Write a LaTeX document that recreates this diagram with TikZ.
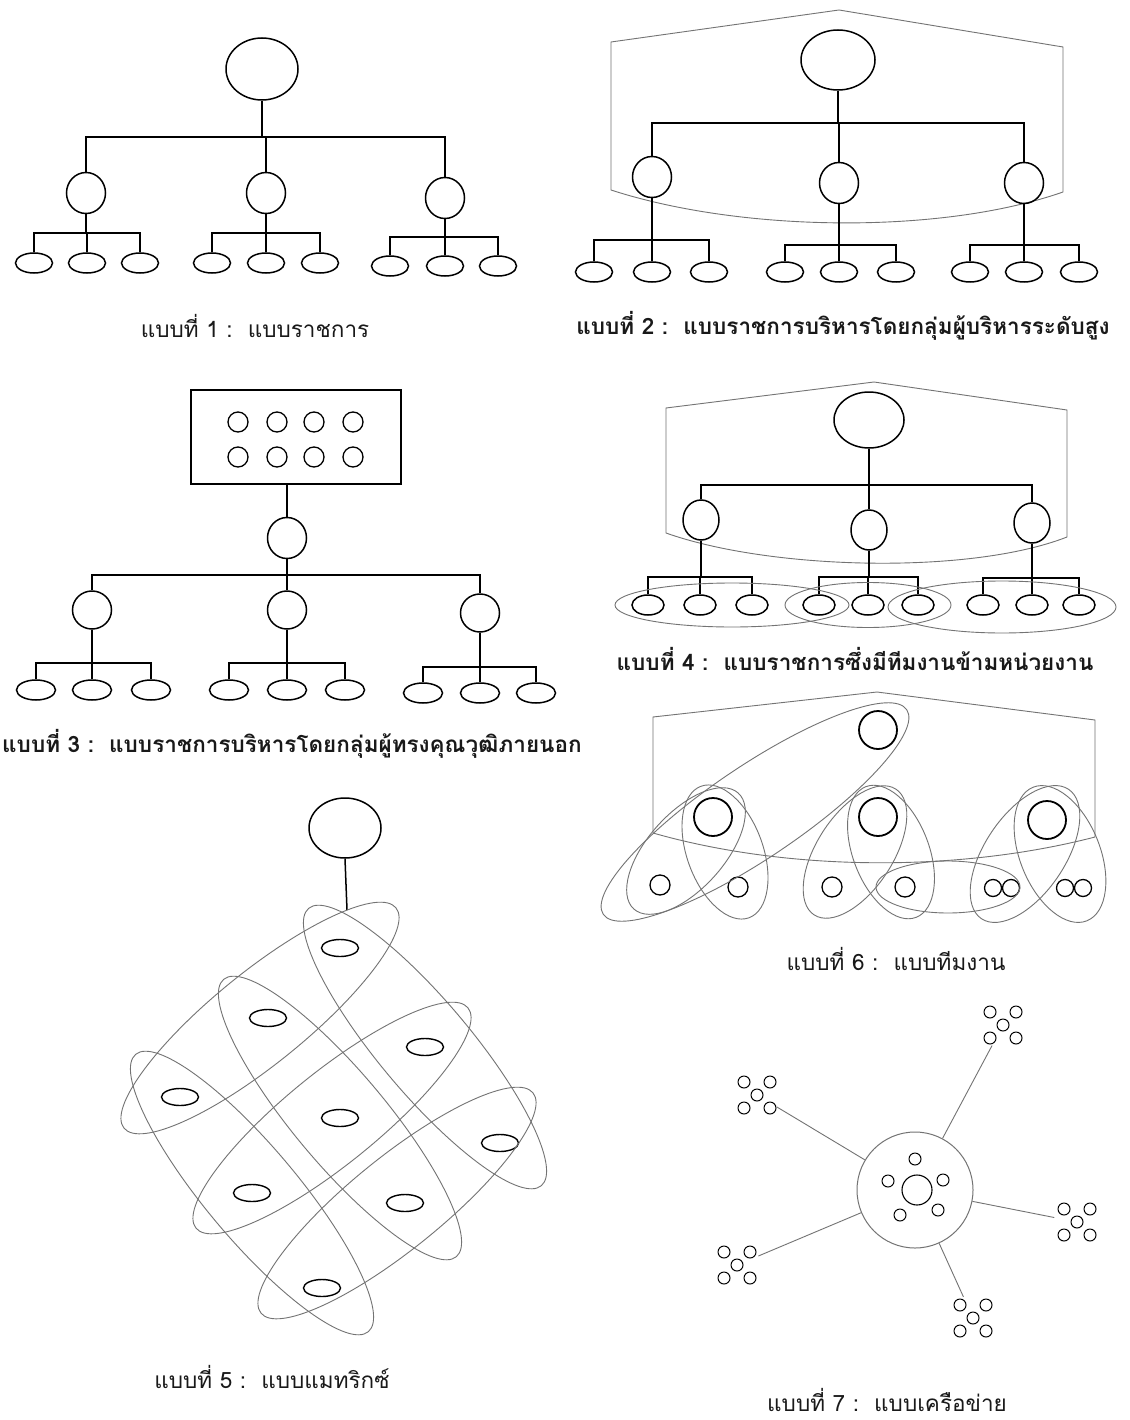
\documentclass[tikz,border=0pt]{standalone}
\usepackage{fontspec}
\newfontfamily\thaifont[Script=Thai]{Loma}
\usetikzlibrary{shapes.geometric}
\newcommand{\mytree}[5]{%
  \coordinate (tmpbar) at (0,#5);
  \draw[conn] (#1.south) -- (#1.south |- tmpbar);
  \draw[conn] (#2.north) -- (#2.north |- tmpbar) -- (#4.north |- tmpbar) -- (#4.north);
  \draw[conn] (#3.north) -- (#3.north |- tmpbar);
}
\newcommand{\mycluster}[3]{%
  \node[clus] (#1) at (#2,#3) {};
  \foreach \dx/\dy [count=\k] in {-13/-13,13/-13,0/0,-13/13,13/13}
    \node[tinyc] (#1-\k) at ([shift={(\dx,\dy)}]#1.center) {};
}
\begin{document}
\begin{tikzpicture}[x=1pt,y=-1pt,
  el/.style={draw, ellipse, inner sep=0pt, line width=1.5pt},
  bigel/.style={el, minimum width=72pt, minimum height=62pt},
  midel/.style={el, minimum width=39pt, minimum height=41pt},
  leaf/.style={el, minimum width=37pt, minimum height=20pt},
  conn/.style={line width=1.5pt},
  gl/.style={draw=black!55, line width=0.9pt},
  team/.style={ellipse, draw=black!55, line width=0.9pt, inner sep=0pt},
  captxt/.style={font=\thaifont\fontsize{22.5}{26}\selectfont, text=black!90, inner sep=0pt},
  captb/.style={captxt, font=\thaifont\bfseries\fontsize{22.5}{26}\selectfont},
  bigc/.style={circle, draw, line width=1.8pt, inner sep=0pt, minimum size=38pt},
  smc/.style={circle, draw, line width=1.3pt, inner sep=0pt, minimum size=20pt},
  pairc/.style={circle, draw, line width=1.3pt, inner sep=0pt, minimum size=17pt},
  boardc/.style={circle, draw, line width=1.3pt, inner sep=0pt, minimum size=20pt},
  matel/.style={el, line width=1.4pt, minimum width=37pt, minimum height=17pt},
  clus/.style={circle, inner sep=0pt, minimum size=46pt},
  tinyc/.style={circle, draw, line width=1pt, inner sep=0pt, minimum size=12pt},
]
\useasboundingbox (0,0) rectangle (1129,1420);
\fill[white] (0,0) rectangle (1129,1420);

% ---------------- Figure 1 ----------------
\node[bigel] (t1) at (262,69) {};
\node[midel] (m1a) at (86,193) {};
\node[midel] (m1b) at (266,193) {};
\node[midel] (m1c) at (445,198) {};
\mytree{t1}{m1a}{m1b}{m1c}{137}
\foreach \n/\x/\y in {l1a1/34/263, l1a2/87/263, l1a3/140/263, l1b1/212/263, l1b2/266/263, l1b3/320/263, l1c1/390/266, l1c2/445/266, l1c3/498/266}
  \node[leaf] (\n) at (\x,\y) {};
\mytree{m1a}{l1a1}{l1a2}{l1a3}{233}
\mytree{m1b}{l1b1}{l1b2}{l1b3}{233}
\mytree{m1c}{l1c1}{l1c2}{l1c3}{237}
\node[captxt] (cap1) at (255,326) {แบบที่ 1 :\ \ แบบราชการ};

% ---------------- Figure 2 ----------------
\draw[gl] (611,42) -- (839,10) -- (1063,47) -- (1063,192) .. controls (940,235) and (740,232) .. (611,190) -- cycle;
\node[bigel, minimum width=74pt, minimum height=60pt] (t2) at (838,60) {};
\node[midel] (m2a) at (652,177) {};
\node[midel] (m2b) at (839,183) {};
\node[midel] (m2c) at (1024,183) {};
\mytree{t2}{m2a}{m2b}{m2c}{123}
\foreach \n/\x in {l2a1/594, l2a2/652, l2a3/709, l2b1/785, l2b2/839, l2b3/896, l2c1/970, l2c2/1024, l2c3/1079}
  \node[leaf] (\n) at (\x,272) {};
\mytree{m2a}{l2a1}{l2a2}{l2a3}{240}
\mytree{m2b}{l2b1}{l2b2}{l2b3}{245}
\mytree{m2c}{l2c1}{l2c2}{l2c3}{245}
\node[captb] (cap2) at (843,326) {แบบที่ 2 :\ \ แบบราชการบริหารโดยกลุ่มผู้บริหารระดับสูง};

% ---------------- Figure 3 ----------------
\node[draw, line width=1.6pt, minimum width=210pt, minimum height=94pt, inner sep=0pt] (r3) at (296,437) {};
\foreach \x [count=\i] in {238,277,314,353} {
  \node[boardc] (bu\i) at (\x,422) {};
  \node[boardc] (bd\i) at (\x,457) {};
}
\node[midel] (e3) at (287,538) {};
\draw[conn] (e3.north |- r3.south) -- (e3.north);
\node[midel, minimum height=38pt] (m3a) at (92,610) {};
\node[midel, minimum height=38pt] (m3b) at (287,610) {};
\node[midel, minimum height=38pt] (m3c) at (480,613) {};
\mytree{e3}{m3a}{m3b}{m3c}{575}
\foreach \n/\x/\y in {l3a1/36/690, l3a2/92/690, l3a3/151/690, l3b1/229/690, l3b2/287/690, l3b3/345/690, l3c1/423/693, l3c2/480/693, l3c3/536/693}
  \node[leaf, minimum width=39pt] (\n) at (\x,\y) {};
\mytree{m3a}{l3a1}{l3a2}{l3a3}{663}
\mytree{m3b}{l3b1}{l3b2}{l3b3}{663}
\mytree{m3c}{l3c1}{l3c2}{l3c3}{667}
\node[captb, anchor=west] (cap3) at (2,744) {แบบที่ 3 :\ \ แบบราชการบริหารโดยกลุ่มผู้ทรงคุณวุฒิภายนอก};

% ---------------- Figure 4 ----------------
\draw[gl] (666,408) -- (874,382) -- (1067,410) -- (1067,537) .. controls (970,575) and (770,570) .. (666,533) -- cycle;
\node[bigel, minimum width=70pt, minimum height=56pt] (t4) at (869,420) {};
\node[midel, minimum width=36pt, minimum height=40pt] (m4a) at (701,520) {};
\node[midel, minimum width=36pt, minimum height=40pt] (m4b) at (869,530) {};
\node[midel, minimum width=36pt, minimum height=40pt] (m4c) at (1032,523) {};
\mytree{t4}{m4a}{m4b}{m4c}{485}
\foreach \n/\x in {l4a1/648, l4a2/700, l4a3/752, l4b1/819, l4b2/868, l4b3/918, l4c1/983, l4c2/1032, l4c3/1079}
  \node[leaf, minimum width=32pt] (\n) at (\x,605) {};
\mytree{m4a}{l4a1}{l4a2}{l4a3}{577}
\mytree{m4b}{l4b1}{l4b2}{l4b3}{577}
\mytree{m4c}{l4c1}{l4c2}{l4c3}{578}
\node[team, minimum width=234pt, minimum height=44pt] (T4a) at (732,605) {};
\node[team, minimum width=166pt, minimum height=45pt] (T4b) at (868,605) {};
\node[team, minimum width=228pt, minimum height=52pt] (T4c) at (1002,607) {};
\node[captb] (cap4) at (855,659) {แบบที่ 4 :\ \ แบบราชการซึ่งมีทีมงานข้ามหน่วยงาน};

% ---------------- Figure 6 ----------------
\draw[gl] (653,717) -- (877,692) -- (1095,720) -- (1095,837) .. controls (960,872) and (790,872) .. (653,833) -- cycle;
\node[bigc] (b6t) at (878,730) {};
\node[bigc] (b6a) at (713,817) {};
\node[bigc] (b6b) at (878,817) {};
\node[bigc] (b6c) at (1047,820) {};
\node[smc] (s6a) at (660,885) {};
\node[smc] (s6b) at (738,887) {};
\node[smc] (s6c) at (832,887) {};
\node[smc] (s6d) at (905,887) {};
\node[pairc] (p6a1) at (993,888) {};
\node[pairc] (p6a2) at (1011,888) {};
\node[pairc] (p6b1) at (1065,888) {};
\node[pairc] (p6b2) at (1083,888) {};
\node[team, minimum width=366pt, minimum height=92pt, rotate=34] (D6) at (755,812) {};
\node[team, minimum width=156pt, minimum height=76pt, rotate=48] (G6a1) at (686,851) {};
\node[team, minimum width=140pt, minimum height=76pt, rotate=-70] (G6a2) at (725,852) {};
\node[team, minimum width=150pt, minimum height=76pt, rotate=57] (G6b1) at (855,852) {};
\node[team, minimum width=140pt, minimum height=76pt, rotate=-69] (G6b2) at (891,852) {};
\node[team, minimum width=156pt, minimum height=80pt, rotate=56] (G6c1) at (1025,854) {};
\node[team, minimum width=144pt, minimum height=80pt, rotate=-68] (G6c2) at (1060,854) {};
\node[team, minimum width=144pt, minimum height=52pt] (G6x) at (948,887) {};
\node[captxt] (cap6) at (896,959) {แบบที่ 6 :\ \ แบบทีมงาน};

% ---------------- Figure 5 ----------------
\node[el, minimum width=72pt, minimum height=60pt] (t5) at (345,828) {};
\coordinate (t5end) at (347,910);
\draw[conn] (t5.south) -- (t5end);
\foreach \n/\x/\y in {a11/340/948, a12/268/1018, a13/180/1097, a21/425/1047, a22/340/1118, a23/252/1193, a31/500/1143, a32/405/1203, a33/322/1288}
  \node[matel] (\n) at (\x,\y) {};
\foreach \c [count=\i] in {a12,a22,a32}
  \node[team, minimum width=350pt, minimum height=92pt, rotate=39] (R5\i) at ([xshift=-8pt]\c) {};
\foreach \c [count=\i] in {a21,a22,a23}
  \node[team, minimum width=362pt, minimum height=92pt, rotate=-50] (C5\i) at (\c) {};
\node[captxt] (cap5) at (272,1377) {แบบที่ 5 :\ \ แบบแมทริกซ์};

% ---------------- Figure 7 ----------------
\node[circle, draw=black!55, line width=1pt, minimum size=116pt, inner sep=0pt] (hub) at (915,1190) {};
\node[circle, draw, line width=1.1pt, minimum size=30pt, inner sep=0pt] (core) at (917,1190) {};
\foreach \x/\y [count=\i] in {915/1159, 888/1181, 943/1180, 900/1215, 938/1210}
  \node[tinyc] (hc\i) at (\x,\y) {};
\mycluster{clTR}{1003}{1025}
\mycluster{clUL}{757}{1095}
\mycluster{clR}{1077}{1222}
\mycluster{clLL}{737}{1265}
\mycluster{clB}{973}{1318}
\foreach \c in {clTR,clUL,clR,clLL,clB}
  \draw[gl] (hub) -- (\c);
\node[captxt] (cap7) at (887,1400) {แบบที่ 7 :\ \ แบบเครือข่าย};
\end{tikzpicture}
\end{document}
